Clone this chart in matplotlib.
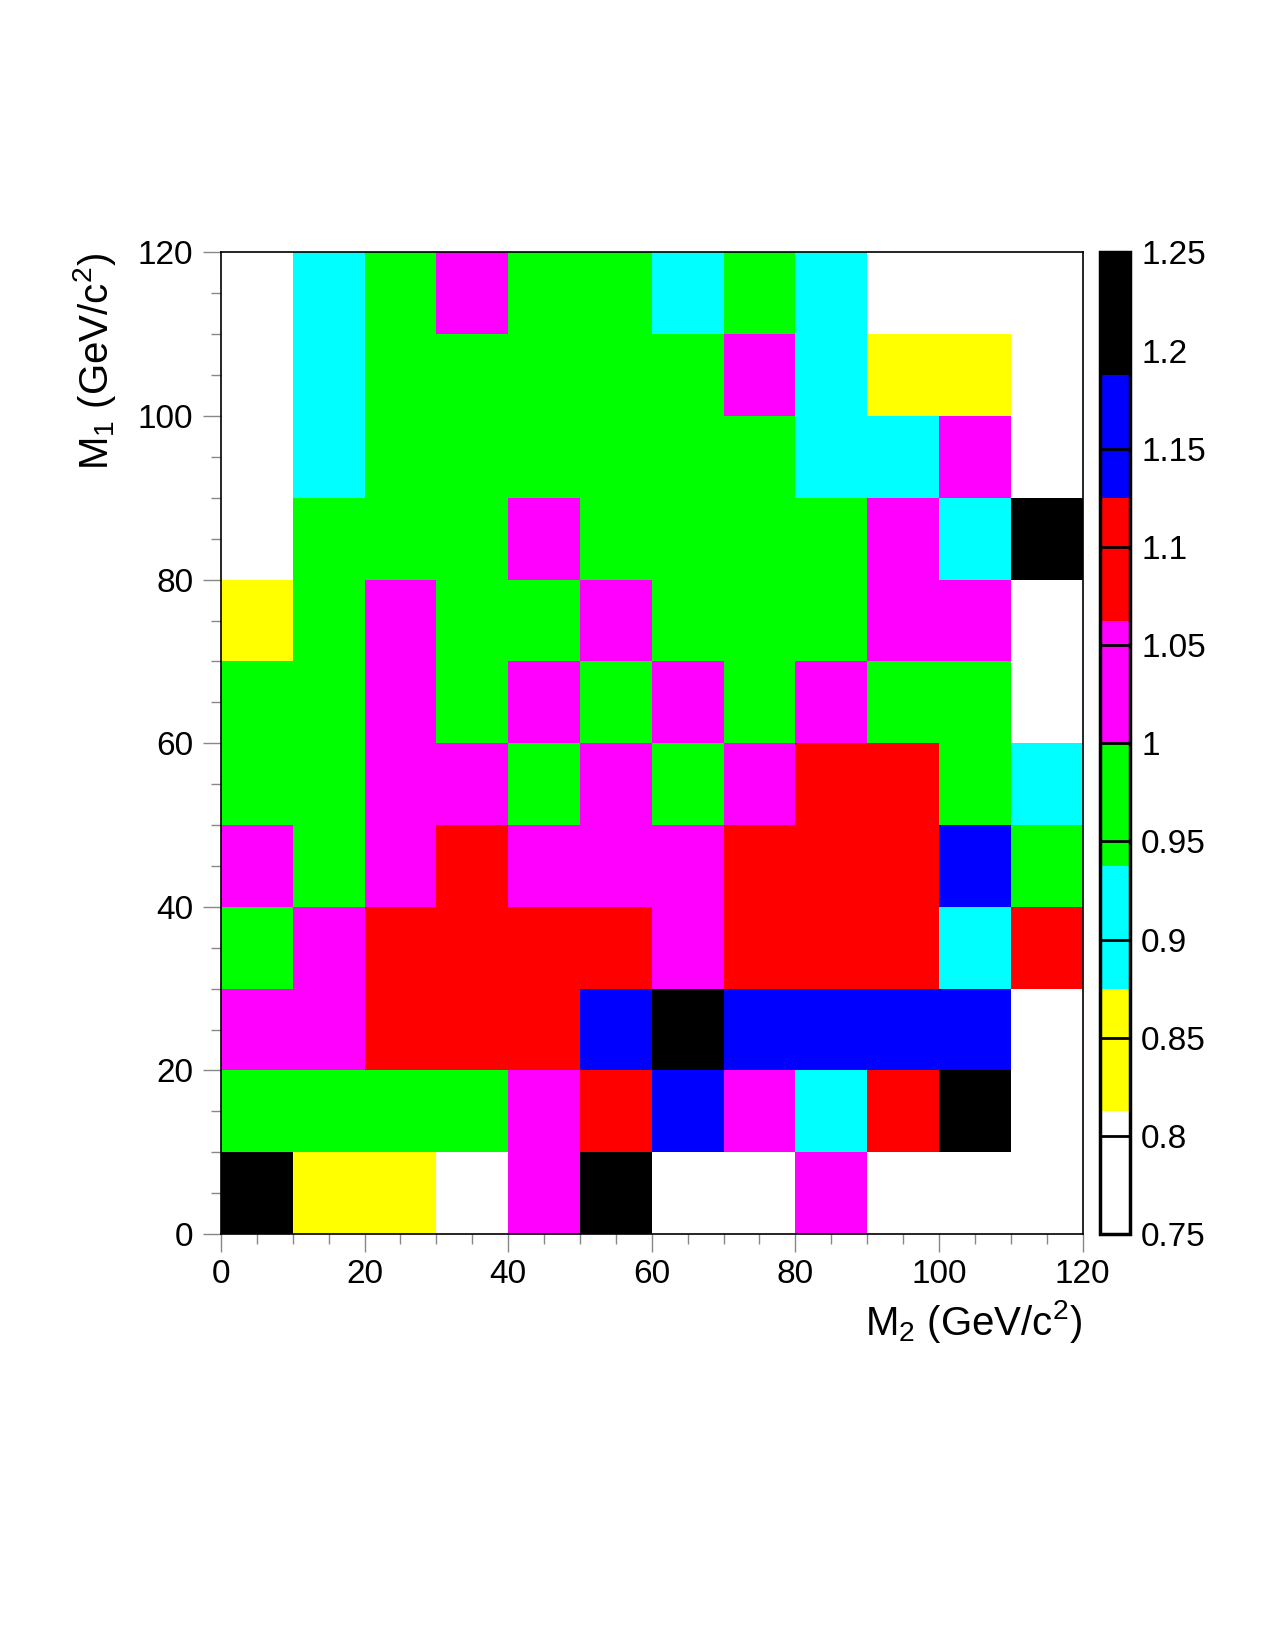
import numpy as np
import matplotlib
matplotlib.use('Agg')
import matplotlib.pyplot as plt
from matplotlib.colors import ListedColormap, BoundaryNorm

plt.rcParams['font.family'] = ['Liberation Sans', 'DejaVu Sans']
plt.rcParams['mathtext.fontset'] = 'custom'
plt.rcParams['mathtext.rm'] = 'Liberation Sans'
plt.rcParams['mathtext.it'] = 'Liberation Sans:italic'
plt.rcParams['mathtext.default'] = 'regular'

# bin edges (GeV/c^2)
m2_edges = [0, 10, 20, 30, 40, 50, 60, 70, 80, 90, 100, 110, 120]
m1_edges = [0, 10, 20, 30, 40, 50, 60, 70, 80, 90, 100, 110, 120]

nan = np.nan
# ratio per bin, rows from M1 = 0-10 (bottom) up to 110-120 (top), empty bins = nan
ratio = [
    [1.22, 0.84, 0.84, nan, 1.03, 1.22, nan, nan, 1.03, nan, nan, nan],
    [0.97, 0.97, 0.97, 0.97, 1.03, 1.09, 1.16, 1.03, 0.91, 1.09, 1.22, nan],
    [1.03, 1.03, 1.09, 1.09, 1.09, 1.16, 1.22, 1.16, 1.16, 1.16, 1.16, nan],
    [0.97, 1.03, 1.09, 1.09, 1.09, 1.09, 1.03, 1.09, 1.09, 1.09, 0.91, 1.09],
    [1.03, 0.97, 1.03, 1.09, 1.03, 1.03, 1.03, 1.09, 1.09, 1.09, 1.16, 0.97],
    [0.97, 0.97, 1.03, 1.03, 0.97, 1.03, 0.97, 1.03, 1.09, 1.09, 0.97, 0.91],
    [0.97, 0.97, 1.03, 0.97, 1.03, 0.97, 1.03, 0.97, 1.03, 0.97, 0.97, nan],
    [0.84, 0.97, 1.03, 0.97, 0.97, 1.03, 0.97, 0.97, 0.97, 1.03, 1.03, nan],
    [nan, 0.97, 0.97, 0.97, 1.03, 0.97, 0.97, 0.97, 0.97, 1.03, 0.91, 1.22],
    [nan, 0.91, 0.97, 0.97, 0.97, 0.97, 0.97, 0.97, 0.91, 0.91, 1.03, nan],
    [nan, 0.91, 0.97, 0.97, 0.97, 0.97, 0.97, 1.03, 0.91, 0.84, 0.84, nan],
    [nan, 0.91, 0.97, 1.03, 0.97, 0.97, 0.91, 0.97, 0.91, nan, nan, nan],
]

palette = ['#ffffff', '#ffff00', '#00ffff', '#00ff00',
           '#ff00ff', '#ff0000', '#0000ff', '#000000']
levels = np.linspace(0.75, 1.25, 9)
cbar_ticks = [0.75, 0.8, 0.85, 0.9, 0.95, 1.0, 1.05, 1.1, 1.15, 1.2, 1.25]
cbar_labels = ['0.75', '0.8', '0.85', '0.9', '0.95', '1', '1.05', '1.1', '1.15', '1.2', '1.25']

cmap = ListedColormap(palette)
cmap.set_bad('white')
norm = BoundaryNorm(levels, cmap.N)

fig = plt.figure(figsize=(12.75, 16.5), dpi=100)
ax = fig.add_axes([0.1733, 0.2521, 0.6758, 0.5949])
mesh = ax.pcolormesh(m2_edges, m1_edges, np.ma.masked_invalid(np.array(ratio)),
                     cmap=cmap, norm=norm, antialiased=False, linewidth=0)

ax.set_xlim(0, 120)
ax.set_ylim(0, 120)
ax.set_xticks([0, 20, 40, 60, 80, 100, 120])
ax.set_yticks([0, 20, 40, 60, 80, 100, 120])
ax.set_xticks(np.arange(0, 121, 5), minor=True)
ax.set_yticks(np.arange(0, 121, 5), minor=True)
ax.tick_params(which='major', direction='out', length=13, width=1, color='#888888',
               labelsize=24, pad=5)
ax.tick_params(which='minor', direction='out', length=7, width=1, color='#888888')
ax.tick_params(axis='y', pad=7)
for s in ax.spines.values():
    s.set_linewidth(1.2)

ax.set_xlabel('M$_{2}$ (GeV/c$^{2}$)', fontsize=29, loc='right', labelpad=6)
ax.set_ylabel('M$_{1}$ (GeV/c$^{2}$)', fontsize=29, loc='top', labelpad=14)

cax = fig.add_axes([0.8627, 0.2521, 0.0235, 0.5949])
cb = fig.colorbar(mesh, cax=cax, ticks=cbar_ticks, spacing='proportional')
cb.ax.set_yticklabels(cbar_labels)
cb.ax.tick_params(direction='in', length=21, width=2, color='black', labelsize=24, pad=8)
cb.outline.set_linewidth(2.5)
cb.ax.minorticks_off()

fig.savefig('out.png', dpi=100)
